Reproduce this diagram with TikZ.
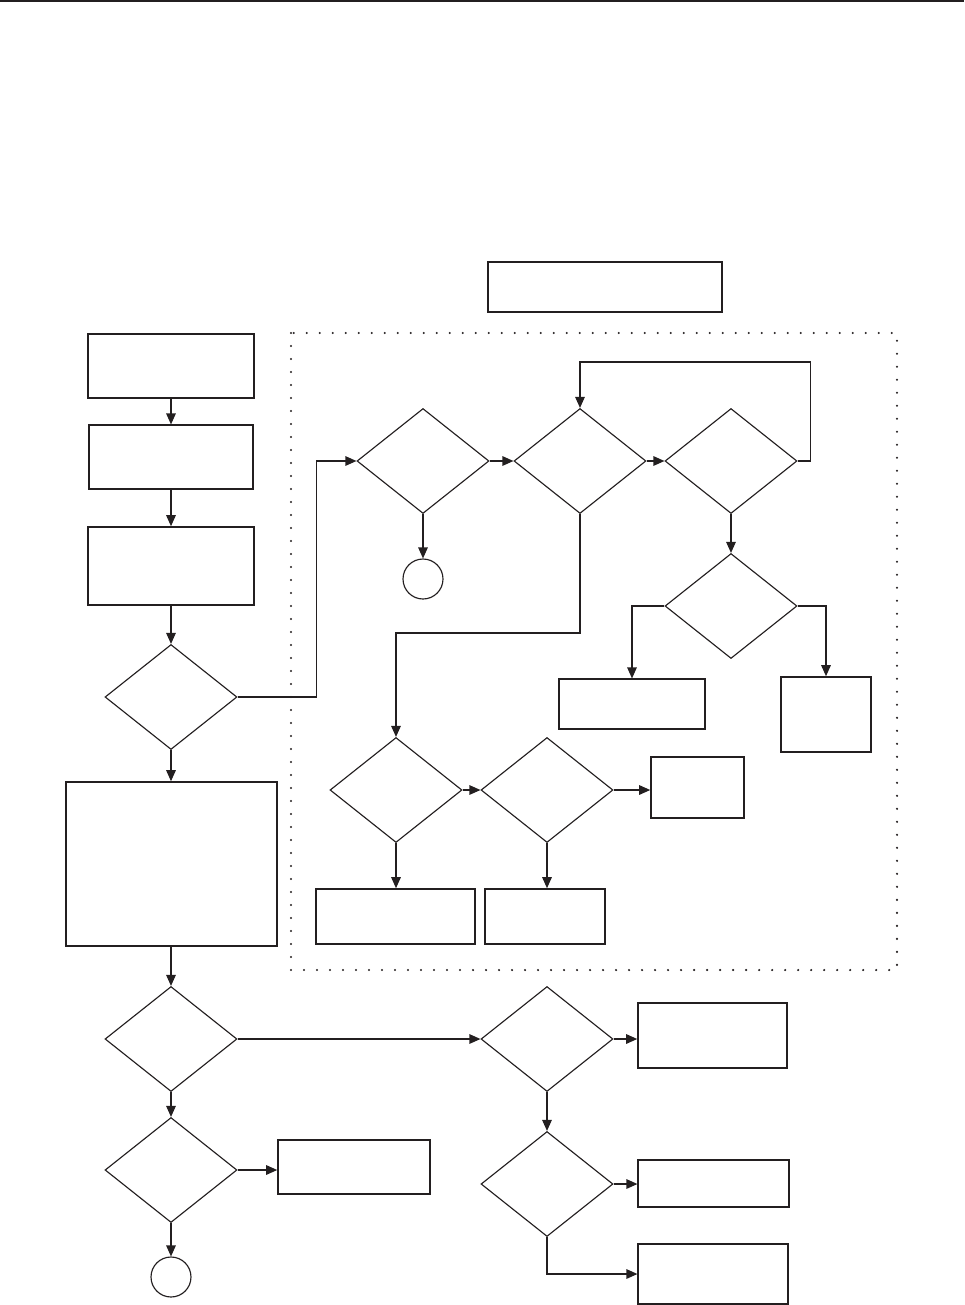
\documentclass[tikz,border=0pt]{standalone}
\usepackage{tikz}
\usetikzlibrary{arrows.meta,positioning,calc,shapes.geometric}
\definecolor{FInk}{HTML}{231F20}

\begin{document}
\begin{tikzpicture}[x=0.02cm,y=-0.02cm,
    box/.style={rectangle,draw=FInk,line width=0.9pt,inner sep=0pt},
    thinbox/.style={box,line width=0.65pt},
    decide/.style={diamond,draw=FInk,line width=0.65pt,inner sep=0pt,
          minimum width=2.64cm,minimum height=2.1cm},
    stopper/.style={circle,draw=FInk,line width=0.65pt,minimum size=0.8cm,inner sep=0pt},
    arr/.style={draw=FInk,line width=0.75pt,-{Triangle[length=2.2mm,width=1.9mm]}},
    zone/.style={draw=FInk,line width=1.3pt,line cap=round,dash pattern=on 0pt off 7.4pt}]
    \useasboundingbox (0,0) rectangle (964,1305);
    \draw[FInk,line width=1.5pt] (0,1) -- (964,1);
    % dotted area
    \draw[zone] (291,333) rectangle (897,970);
    \node[thinbox,minimum width=4.68cm,minimum height=1cm] (title) at (605,287) {};
    % left column
    \node[box,minimum width=3.32cm,minimum height=1.28cm] (start) at (171,366) {};
    \node[thinbox,minimum width=3.28cm,minimum height=1.28cm] (prep) at (171,457) {};
    \node[box,minimum width=3.32cm,minimum height=1.56cm] (setup) at (171,566) {};
    \node[decide] (askA) at (171,697) {};
    \node[box,minimum width=4.22cm,minimum height=3.28cm] (main) at (171.5,864) {};
    \node[decide] (askB) at (171,1039) {};
    \node[decide] (askC) at (171,1170) {};
    \node[stopper] (endL) at (171,1277) {};
    \node[box,minimum width=3.04cm,minimum height=1.08cm] (sideC) at (354,1167) {};
    % dotted area contents
    \node[decide] (chkA) at (423,461) {};
    \node[stopper] (endA) at (423,579) {};
    \node[decide] (chkB) at (580,461) {};
    \node[decide] (chkC) at (731,461) {};
    \node[decide] (chkD) at (731,606) {};
    \node[thinbox,minimum width=2.92cm,minimum height=1cm] (outD1) at (632,704) {};
    \node[box,minimum width=1.8cm,minimum height=1.5cm] (outD2) at (826,714.5) {};
    \node[decide] (chkE) at (396,790) {};
    \node[decide] (chkF) at (547,790) {};
    \node[box,minimum width=1.86cm,minimum height=1.22cm] (outF) at (697.5,787.5) {};
    \node[box,minimum width=3.18cm,minimum height=1.1cm] (outE) at (395.5,916.5) {};
    \node[box,minimum width=2.4cm,minimum height=1.1cm] (outF2) at (545,916.5) {};
    % lower right
    \node[decide] (askM) at (547,1039) {};
    \node[box,minimum width=2.98cm,minimum height=1.3cm] (outM) at (712.5,1035.5) {};
    \node[decide] (askN) at (547,1184) {};
    \node[thinbox,minimum width=3.02cm,minimum height=0.94cm] (outN1) at (713.5,1183.5) {};
    \node[thinbox,minimum width=3cm,minimum height=1.2cm] (outN2) at (713,1274) {};
    % connectors
    \draw[arr] (start) -- (prep);
    \draw[arr] (prep) -- (setup);
    \draw[arr] (setup) -- (askA);
    \draw[arr] (askA) -- (askA |- main.north);
    \draw[arr] (askA |- main.south) -- (askB);
    \draw[arr] (askB) -- (askC);
    \draw[arr] (askC) -- (endL);
    \draw[arr] (askC.east) -- (sideC.west |- askC.east);
    \draw[arr] (askA.east) -- ++(79,0) |- (chkA.west);
    \draw[arr] (chkA.east) -- (chkB.west);
    \draw[arr] (chkB.east) -- (chkC.west);
    \draw[arr] (chkC.east) -- ++(13,0) -- ++(0,-99) -| (chkB.north);
    \draw[arr] (chkA.south) -- (endA);
    \draw[arr] (chkC.south) -- (chkD.north);
    \draw[arr] (chkD.west) -| (outD1.north);
    \draw[arr] (chkD.east) -| (outD2.north);
    \draw[arr] (chkB.south) -- ++(0,119) -| (chkE.north);
    \draw[arr] (chkE.east) -- (chkF.west);
    \draw[arr] (chkF.east) -- (outF.west |- chkF.east);
    \draw[arr] (chkE.south) -- (outE.north -| chkE.south);
    \draw[arr] (chkF.south) -- (outF2.north -| chkF.south);
    \draw[arr] (askB.east) -- (askM.west);
    \draw[arr] (askM.east) -- (outM.west |- askM.east);
    \draw[arr] (askM.south) -- (askN.north);
    \draw[arr] (askN.east) -- (outN1.west |- askN.east);
    \draw[arr] (askN.south) |- (outN2.west);
\end{tikzpicture}
\end{document}
